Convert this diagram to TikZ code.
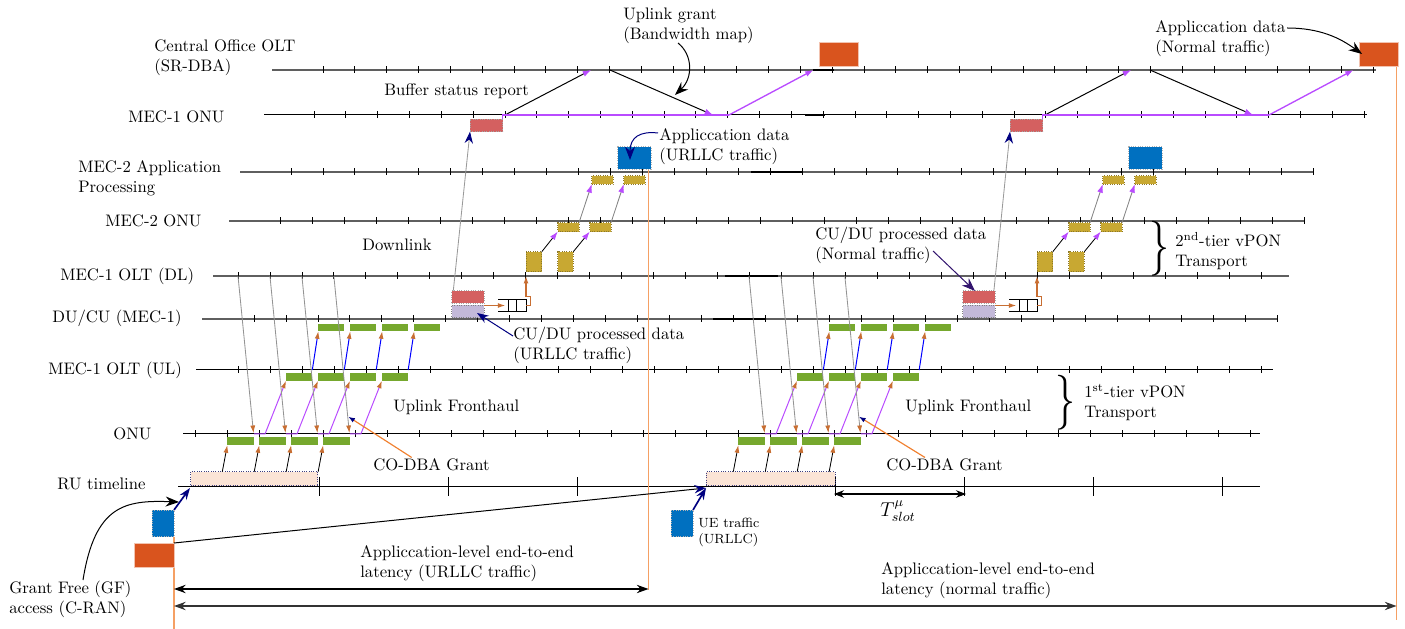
\documentclass[tikz,border=0pt]{standalone}
\usetikzlibrary{arrows.meta,calc}
\definecolor{tlgray}{RGB}{95,95,95}
\definecolor{tipor}{RGB}{200,110,50}
\definecolor{vio}{RGB}{185,75,255}
\definecolor{grn}{RGB}{118,168,46}
\definecolor{ylw}{RGB}{200,168,50}
\definecolor{ylwb}{RGB}{140,120,40}
\definecolor{rdb}{RGB}{212,96,96}
\definecolor{lav}{RGB}{195,185,217}
\definecolor{orb}{RGB}{217,84,30}
\definecolor{blb}{RGB}{0,112,192}
\definecolor{peach}{RGB}{251,228,214}
\definecolor{orl}{RGB}{245,160,100}
\definecolor{orline}{RGB}{240,128,48}
\definecolor{navyc}{RGB}{0,0,128}
\definecolor{dviol}{RGB}{50,20,110}
\newcommand{\mytl}[8]{%
  \draw[#8] (#3,#2) coordinate (#1-s) -- (#4,#2) coordinate (#1-e);
  \foreach \k in {0,...,#7}{\draw[black,line width=0.5pt] ({#5+\k*#6},{#2-3.5}) -- ++(0,7);}
}
\begin{document}
\begin{tikzpicture}[x=0.6pt,y=-0.6pt,
  box/.style={rectangle,inner sep=0pt,outer sep=0pt,anchor=north west},
  sz/.style 2 args={minimum width={#1*0.6pt},minimum height={#2*0.6pt}},
  gbox/.style={box,fill=grn},
  ybox/.style={box,fill=ylw,draw=ylwb,densely dotted,line width=0.4pt},
  rbox/.style={box,fill=rdb,draw=gray!70,densely dotted,line width=0.4pt},
  lbox/.style={box,fill=lav,draw=gray,densely dotted,line width=0.4pt},
  obox/.style={box,fill=orb,draw=orb!35!white,line width=0.4pt},
  bbox/.style={box,fill=blb,draw=gray!60,densely dotted,line width=0.4pt},
  pbox/.style={box,fill=peach,draw=navyc!50!gray,densely dotted,line width=0.4pt},
  lbl/.style={inner sep=0pt,anchor=north west,align=left},
  otip/.style={-{Latex[length=4.5pt,width=3pt,color=tipor]}},
  vtip/.style={-{Latex[length=5pt,width=3.5pt,color=vio]}},
  ntip/.style={-{Stealth[length=7pt,width=5pt,color=navyc]}},
  ktip/.style={-{Stealth[length=8pt,width=6pt]}},
  gtl/.style={tlgray,line width=0.9pt},
  btl/.style={black,line width=0.6pt},
  thk/.style={black,line width=1.3pt},
]
\useasboundingbox (0,0) rectangle (1405,629);

% ---------- timelines ----------
\mytl{co}{70}{272}{1376}{323}{31.82}{33}{gtl}
\mytl{monu}{115}{264}{1367}{314}{31.82}{33}{btl}
\mytl{mapp}{172}{240}{1314}{291}{31.94}{32}{gtl}
\mytl{mtwo}{221}{229}{1305}{280}{32.0}{32}{gtl}
\mytl{dl}{276}{213}{1289}{238}{31.97}{32}{gtl}
\mytl{ducu}{319}{202}{1277}{254}{31.97}{32}{gtl}
\mytl{ul}{370}{196}{1273}{238.7}{31.95}{32}{btl}
\mytl{onu}{434}{183}{1260}{195.7}{31.95}{33}{btl}
\draw[btl] (178,487) coordinate (ru-s) -- (1260,487) coordinate (ru-e);
\foreach \k in {1,2,3,5,6,7,8}{\draw[black,line width=0.6pt] ({190+\k*129},477.5) -- ++(0,19);}
\draw[thk] (813,70) -- (834,70);
\draw[thk] (805,115) -- (825,115);
\draw[thk] (751,172) -- (802,172);
\draw[thk] (725,276) -- (778,276);
\draw[thk] (713,319) -- (765,319);

% ---------- labels of timelines ----------
\node[lbl] (tco) at (154,39) {Central Office OLT\\(SR-DBA)};
\node[lbl] (tm1) at (128,110) {MEC-1 ONU};
\node[lbl] (tm2a) at (78,160) {MEC-2 Application\\Processing};
\node[lbl] (tm2o) at (105,214) {MEC-2 ONU};
\node[lbl] (tdl) at (60,268) {MEC-1 OLT (DL)};
\node[lbl] (tdu) at (52,310) {DU/CU (MEC-1)};
\node[lbl] (tul) at (48,362) {MEC-1 OLT (UL)};
\node[lbl] (tonu) at (113,427) {ONU};
\node[lbl] (tru) at (57,478) {RU timeline};

% ---------- orange vertical markers ----------
\draw[orl,line width=0.7pt] (174,537) coordinate (va1) -- (174,629) coordinate (va2);
\draw[orl,line width=0.7pt] (648.5,169) coordinate (vb1) -- (648.5,590) coordinate (vb2);
\draw[orl,line width=0.7pt] (1396.5,67) coordinate (vc1) -- (1396.5,620) coordinate (vc2);

% ---------- RU boxes ----------
\node[pbox,sz={127}{14}] (ru-0) at (190.7,471.7) {};
\node[pbox,sz={129}{14}] (ru-511) at (706,471.7) {};

% ---------- uplink fronthaul groups ----------
\foreach \g in {0,511}{
  \foreach \k in {0,1,2,3}{
    \pgfmathsetmacro\xo{\g+\k*31.95}
    \node[gbox,sz={26.7}{7.8}] (on-\g-\k) at ({227.3+\xo},437.5) {};
    \node[gbox,sz={26.3}{7.5}] (ul-\g-\k) at ({286+\xo},373.3) {};
    \node[gbox,sz={26}{7.3}] (du-\g-\k) at ({318.3+\xo},324) {};
    \draw[black,line width=0.5pt,otip] ({222.3+\xo},471.7) -- (on-\g-\k.south west);
    \draw[vio,line width=0.6pt,otip] ({254+\xo},434) -- ({265+\xo},434) -- (ul-\g-\k.south west);
    \draw[blue,line width=0.6pt,otip] ({312.3+\xo},370) -- (du-\g-\k.south west);
    \draw[gray!85,line width=0.5pt,otip] ({238+\xo},276) -- ({253.5+\xo},433);
  }
}

% ---------- downlink / processing groups ----------
\foreach \g in {0,511}{
  \node[rbox,sz={32.6}{12.6}] (dr-\g) at ({451.7+\g},290.7) {};
  \node[lbox,sz={32.6}{12.7}] (lv-\g) at ({451.7+\g},305) {};
  \node[box,sz={27.7}{12.4}] (q-\g) at ({498.3+\g},299.3) {};
  \draw[black,line width=0.6pt] (q-\g.north west) -- (q-\g.north east) -- (q-\g.south east) -- (q-\g.south west);
  \draw[black,line width=0.6pt] ($(q-\g.north west)!0.36!(q-\g.north east)$) -- ($(q-\g.south west)!0.36!(q-\g.south east)$);
  \draw[black,line width=0.6pt] ($(q-\g.north west)!0.66!(q-\g.north east)$) -- ($(q-\g.south west)!0.66!(q-\g.south east)$);
  \node[bbox,sz={33.3}{22.3}] (bl-\g) at ({617.7+\g},146.7) {};
  \foreach \j/\dx in {0/0,1/31.5}{
    \node[ybox,sz={15.8}{20}] (ty-\g-\j) at ({526+\g+\dx},251.7) {};
    \node[ybox,sz={21.3}{9}] (ys-\g-\j) at ({557.7+\g+\j*32},222.7) {};
    \node[ybox,sz={21.3}{8.6}] (ya-\g-\j) at ({591.7+\g+\j*32},175.7) {};
    \draw[black,line width=0.5pt,vtip] (ty-\g-\j.north east) -- (ys-\g-\j.south west);
    \draw[gray,line width=0.5pt,vtip] (ys-\g-\j.north east) -- (ya-\g-\j.south west);
  }
  \draw[tipor,line width=0.7pt,otip] (lv-\g.north east |- q-\g.west) -- ($(q-\g.west)+(7,0)$);
  \draw[tipor,line width=0.7pt,otip] (q-\g.east) -- ++(4.7,0) -- ++(0,-9) -| (ty-\g-0.south west |- dl-s);
}

% ---------- SR-DBA report / grant ----------
\foreach \h in {0,540}{
  \node[rbox,sz={32.7}{12.7}] (mr-\h) at ({470+\h},119) {};
  \node[obox,sz={39}{24.4}] (ot-\h) at ({819+\h},42.3) {};
  \coordinate (bs-\h) at ({505+\h},115);
  \coordinate (bt-\h) at ({591+\h},70);
  \coordinate (pv-\h) at ({729+\h},115);
  \coordinate (pt-\h) at ({813.5+\h},70);
  \coordinate (gs-\h) at ({610+\h},70);
  \coordinate (ge-\h) at ({713+\h},115);
  \draw[black,line width=0.6pt,vtip] (bs-\h) -- (bt-\h);
  \draw[black,line width=0.6pt,vtip] (gs-\h) -- (ge-\h);
  \draw[vio,line width=0.8pt] (mr-\h.north east) -- ++(0,-4) -- (pv-\h);
  \draw[vio,line width=0.8pt,vtip] (pv-\h) -- (pt-\h);
}
\draw[gray!80,line width=0.5pt,ntip] ($(dr-0.north west)+(1.6,0)$) -- (mr-0.south west);
\draw[gray!80,line width=0.5pt,ntip] ($(dr-511.north east)+(-1.4,0)$) -- (mr-540.south west);

% ---------- braces ----------
\node[inner sep=0pt,anchor=west] (br2) at (1149,249) {\scalebox{2.4}[3.3]{$\}$}};
\node[inner sep=0pt,anchor=west] (br1) at (1055,402.5) {\scalebox{2.4}[3.3]{$\}$}};

% ---------- texts ----------
\node[lbl] (tbsr) at (384,83) {Buffer status report};
\node[lbl] (tug) at (623,8) {Uplink grant\\(Bandwidth map)};
\node[lbl] (tadu) at (659,128) {Appliccation data\\(URLLC traffic)};
\node[lbl] (tadn) at (1155,20) {Appliccation data\\(Normal traffic)};
\node[lbl] (tdown) at (362,239) {Downlink};
\node[lbl] (tcuu) at (513,327) {CU/DU processed data\\(URLLC traffic)};
\node[lbl] (tcun) at (815,227) {CU/DU processed data\\(Normal traffic)};
\node[lbl] (t2t) at (1175,232) {2\textsuperscript{nd}-tier vPON\\Transport};
\node[lbl] (t1t) at (1084,384) {1\textsuperscript{st}-tier vPON\\Transport};
\node[lbl] (tuf1) at (393,400) {Uplink Fronthaul};
\node[lbl] (tuf2) at (905,400) {Uplink Fronthaul};
\node[lbl] (tcd1) at (373,458) {CO-DBA Grant};
\node[lbl] (tcd2) at (886,458) {CO-DBA Grant};
\node[lbl] (tl1) at (360,545) {Appliccation-level end-to-end\\latency (URLLC traffic)};
\node[lbl] (tl2) at (881,562) {Appliccation-level end-to-end\\latency (normal traffic)};
\node[lbl] (tgf) at (9,581) {Grant Free (GF)\\access (C-RAN)};
\node[lbl,font=\footnotesize] (tue) at (698,518) {UE traffic\\(URLLC)};
\node (tslot) at (898,511) {\large $T^{\mu}_{slot}$};

% ---------- annotation arrows ----------
\draw[black,line width=0.6pt,ktip] (678,43) .. controls (693,55) and (693,78) .. (675,95);
\draw[navyc,line width=0.6pt,ktip] (658,133) .. controls (640,131) and (630,137) .. (630,160);
\draw[black,line width=0.6pt,ktip] (1287,28) .. controls (1320,28) and (1340,38) .. (1362,54);
\draw[navyc,line width=0.6pt,ntip] (513,336) -- (477,313);
\draw[dviol,line width=0.6pt,ktip] (933,251) -- (975,291);
\draw[orline,line width=0.7pt,-{Latex[length=4pt,width=3pt,color=navyc]}] (411.7,457.5) -- (348.3,416.7);
\draw[orline,line width=0.7pt,-{Latex[length=4pt,width=3pt,color=navyc]}] (925,457.5) -- (859,416.7);

% ---------- RU side: traffic sources ----------
\node[bbox,sz={22}{26.7}] (gfb) at (152,510) {};
\node[obox,sz={40}{24.7}] (gfo) at (134,543) {};
\node[bbox,sz={22}{26.7}] (ueb) at (671,510) {};
\coordinate (ru0) at (190,488);
\coordinate (ru1) at (706,488);
\draw[black,line width=0.6pt,ktip] (83,580) .. controls (95,505) and (125,500) .. (179,502);
\draw[navyc,line width=1pt,ntip] (gfb.north east) -- (ru0);
\draw[black,line width=0.6pt,ntip] (gfo.north east) -- (ru1);
\draw[navyc,line width=1pt,ntip] (ueb.north east) -- (ru1);

% ---------- slot and latency arrows ----------
\coordinate (ts1) at (834,494);
\coordinate (ts2) at (966,494);
\draw[black,line width=0.7pt,{Stealth[length=6pt,width=4.5pt]}-{Stealth[length=6pt,width=4.5pt]}] (ts1) -- (ts2);
\coordinate (la1) at (174,589);
\coordinate (lb1) at (648.5,589);
\coordinate (la2) at (174,606);
\coordinate (lb2) at (1396.5,606);
\draw[black,line width=0.8pt,{Stealth[length=7pt,width=5pt]}-{Stealth[length=7pt,width=5pt]}] (la1) -- (lb1);
\draw[black!80,line width=0.8pt,{Stealth[length=7pt,width=5pt]}-{Stealth[length=7pt,width=5pt]}] (la2) -- (lb2);
\end{tikzpicture}
\end{document}
